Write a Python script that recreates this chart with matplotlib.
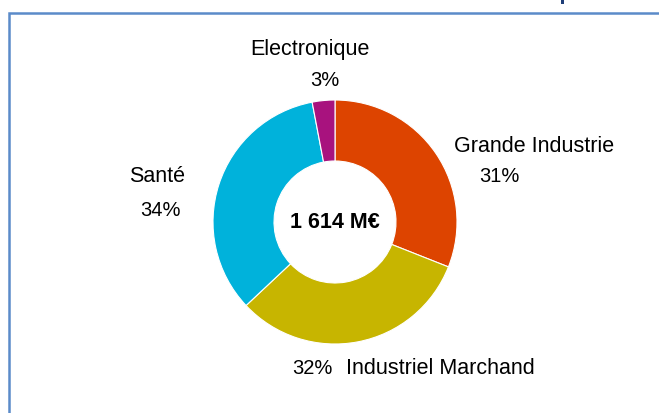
import matplotlib.pyplot as plt
from matplotlib.patches import Rectangle

plt.rcParams['font.family'] = ['Liberation Sans', 'DejaVu Sans']

# data
sectors = ['Grande Industrie', 'Industriel Marchand', 'Santé', 'Electronique']
shares = [31, 32, 34, 3]
colors = ['#DD4400', '#C7B500', '#00B2DB', '#A8127E']
total_label = '1 614 M€'

W, H = 659, 413
fig = plt.figure(figsize=(W / 100, H / 100), dpi=100)
ax = fig.add_axes([0, 0, 1, 1])

# frame of the slide box
frame = Rectangle((8.5, -10), 700, H - 12.5 + 10, fill=False,
                  edgecolor='#5B8BC9', lw=1.8)
ax.add_patch(frame)
ax.add_patch(Rectangle((561, H - 4), 3, 4, color='#1F3E78', lw=0))

cx, cy, r = 335, H - 222, 122
ax.pie(shares, colors=colors, startangle=90, counterclock=False,
       center=(cx, cy), radius=r, frame=True,
       wedgeprops=dict(width=r * 0.5, edgecolor='white', linewidth=0.8))
ax.set_xlim(0, W)
ax.set_ylim(0, H)
ax.set_aspect('equal')
ax.axis('off')

ax.text(cx, cy - 1, total_label, ha='center', va='center', fontsize=15.5,
        fontweight='bold')

fs = 15.5
fp = 14.5
ax.text(310, H - 50, 'Electronique', ha='center', va='center', fontsize=fs)
ax.text(324.5, H - 80, '3%', ha='center', va='center', fontsize=fp)
ax.text(534, H - 146.5, 'Grande Industrie', ha='center', va='center', fontsize=fs)
ax.text(499.5, H - 177, '31%', ha='center', va='center', fontsize=fp)
ax.text(157.5, H - 177, 'Santé', ha='center', va='center', fontsize=fs)
ax.text(160, H - 210, '34%', ha='center', va='center', fontsize=fp)
ax.text(312, H - 369, '32%', ha='center', va='center', fontsize=fp)
ax.text(440.5, H - 368, 'Industriel Marchand', ha='center', va='center', fontsize=fs)

fig.savefig('out.png', dpi=100)
